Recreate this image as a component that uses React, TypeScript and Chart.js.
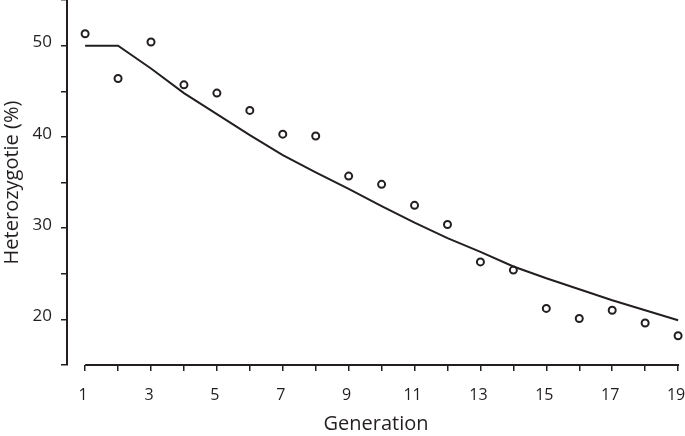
import React, { useEffect, useRef } from "react";
import { Chart, registerables } from "chart.js";

Chart.register(...registerables);

const generations = [1, 2, 3, 4, 5, 6, 7, 8, 9, 10, 11, 12, 13, 14, 15, 16, 17, 18, 19];
const observed = [51.3, 46.4, 50.4, 45.7, 44.8, 42.9, 40.3, 40.1, 35.7, 34.8, 32.5, 30.4, 26.3, 25.4, 21.2, 20.1, 21.0, 19.6, 18.2];
const model = [50, 50, 47.5, 44.8, 42.5, 40.2, 38.0, 36.1, 34.3, 32.4, 30.6, 28.9, 27.4, 25.8, 24.5, 23.3, 22.1, 21.0, 19.9];
const yTickLabels = [20, 30, 40, 50];
const xTickLabels = [1, 3, 5, 7, 9, 11, 13, 15, 17, 19];

const INK = "#231f20";
const FONT = "'Open Sans', 'Noto Sans', sans-serif";

const xAxisLine = {
  id: "xAxisLine",
  afterDatasetsDraw(chart: any) {
    const { ctx, chartArea, scales } = chart;
    const x = scales.x;
    const x0 = x.getPixelForValue(generations[0]);
    const x1 = x.getPixelForValue(generations[generations.length - 1]);
    ctx.save();
    ctx.strokeStyle = INK;
    ctx.lineWidth = 2;
    ctx.beginPath();
    ctx.moveTo(x0, chartArea.bottom);
    ctx.lineTo(x1 + 1, chartArea.bottom);
    ctx.stroke();
    ctx.restore();
  },
};

export default function App() {
  const ref = useRef<HTMLCanvasElement | null>(null);

  useEffect(() => {
    if (!ref.current) return;
    const chart = new Chart(ref.current, {
      type: "scatter",
      data: {
        datasets: [
          {
            label: "Model",
            data: generations.map((g, i) => ({ x: g, y: model[i] })),
            showLine: true,
            borderColor: INK,
            borderWidth: 2,
            pointRadius: 0,
            tension: 0,
            clip: false as any,
          },
          {
            label: "Observed",
            data: generations.map((g, i) => ({ x: g, y: observed[i] })),
            showLine: false,
            pointRadius: 3.5,
            pointBorderWidth: 2,
            pointBorderColor: INK,
            pointBackgroundColor: "#ffffff",
            clip: false as any,
          },
        ],
      },
      options: {
        animation: false,
        responsive: true,
        maintainAspectRatio: false,
        layout: { autoPadding: false, padding: 0 },
        plugins: {
          legend: { display: false },
          tooltip: { enabled: false },
        },
        scales: {
          x: {
            type: "linear",
            min: 0.45,
            max: 19.21,
            afterBuildTicks: (s: any) => {
              s.ticks = generations.map((g) => ({ value: g }));
            },
            afterFit: (s: any) => {
              s.height = 71;
              s.paddingLeft = 0;
              s.paddingRight = 0;
            },
            ticks: {
              autoSkip: false,
              maxRotation: 0,
              color: INK,
              padding: 15,
              labelOffset: -2,
              font: { family: FONT, size: 16 },
              callback: (v: any) => (xTickLabels.includes(Number(v)) ? String(v) : ""),
            },
            grid: {
              drawOnChartArea: false,
              drawTicks: true,
              tickLength: 6,
              color: INK,
              lineWidth: 1.5,
            },
            border: { display: false },
            title: {
              display: true,
              text: "Generation",
              color: INK,
              font: { family: FONT, size: 20 },
              padding: 0,
            },
          },
          y: {
            type: "linear",
            min: 15,
            max: 55,
            afterFit: (s: any) => {
              s.width = 67;
              s.paddingTop = 0;
              s.paddingBottom = 0;
            },
            ticks: {
              stepSize: 5,
              color: INK,
              padding: 9,
              labelOffset: -3,
              font: { family: FONT, size: 17 },
              callback: (v: any) => (yTickLabels.includes(Number(v)) ? String(v) : ""),
            },
            grid: {
              drawOnChartArea: false,
              drawTicks: true,
              tickLength: 6,
              color: INK,
              lineWidth: 1.5,
            },
            border: { display: true, color: INK, width: 2 },
            title: {
              display: true,
              text: "Heterozygotie (%)",
              color: INK,
              font: { family: FONT, size: 20 },
              padding: 0,
            },
          },
        },
      },
      plugins: [xAxisLine],
    });
    return () => chart.destroy();
  }, []);

  return (
    <div style={{ position: "absolute", left: 0, top: 0, width: 685, height: 436, background: "#fff" }}>
      <canvas ref={ref} />
    </div>
  );
}
